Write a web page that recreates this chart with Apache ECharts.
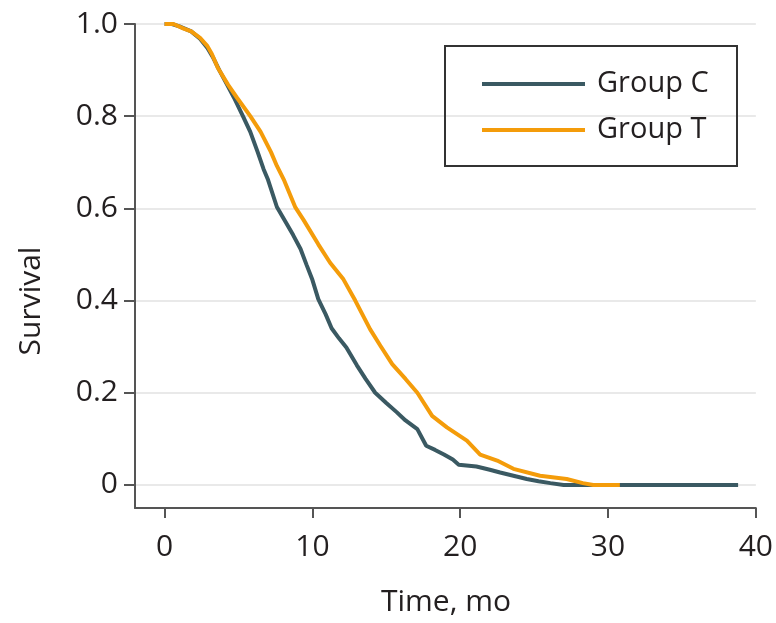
<!DOCTYPE html>
<html>
<head>
<meta charset="utf-8">
<script src="https://cdn.jsdelivr.net/npm/echarts@6/dist/echarts.min.js"></script>
<style>
  html, body { margin: 0; padding: 0; background: #fff; }
  #content { width: 776px; height: 623px; }
</style>
</head>
<body>
<div id="content"></div>
<script>
// survival curves (time in months, survival proportion)
var timeC = [0, 0.5, 1.0, 1.8, 2.4, 2.9, 3.3, 3.7, 4.2, 4.7, 5.3, 5.8, 6.3, 6.7, 7.0, 7.6, 8.2, 8.7, 9.2, 9.6,
    10.0, 10.4, 10.9, 11.3, 11.8, 12.3, 13.0, 13.6, 14.25, 15.0, 15.7, 16.3, 17.1, 17.7, 18.3, 18.9, 19.5, 19.9,
    21.1, 22.0, 22.7, 23.6, 24.5, 25.3, 26.1, 27.0, 38.8];
var survC = [1, 1, 0.995, 0.984, 0.968, 0.948, 0.926, 0.9, 0.87, 0.84, 0.8, 0.766, 0.722, 0.685, 0.662, 0.603, 0.57, 0.542, 0.512, 0.478,
    0.445, 0.403, 0.37, 0.34, 0.318, 0.298, 0.26, 0.23, 0.2, 0.178, 0.158, 0.14, 0.121, 0.085, 0.076, 0.066, 0.055, 0.044,
    0.04, 0.033, 0.027, 0.02, 0.013, 0.008, 0.004, 0, 0];

var timeT = [0, 0.6, 1.3, 1.8, 2.4, 2.9, 3.2, 3.6, 4.3, 4.9, 5.8, 6.5, 7.2, 7.6, 8.1, 8.85, 9.4, 10.4, 11.2, 12.1,
    12.9, 13.9, 14.6, 15.4, 16.3, 17.1, 18.1, 19.1, 20.45, 21.35, 22.5, 23.6, 25.4, 27.2, 28.3, 29.0, 30.8];
var survT = [1, 1, 0.99, 0.984, 0.97, 0.952, 0.935, 0.905, 0.868, 0.84, 0.8, 0.766, 0.722, 0.692, 0.66, 0.602, 0.575, 0.522, 0.482, 0.446,
    0.4, 0.338, 0.302, 0.262, 0.23, 0.2, 0.15, 0.125, 0.096, 0.066, 0.053, 0.035, 0.02, 0.013, 0.004, 0, 0];

var xTicks = [0, 10, 20, 30, 40];
var yTicks = [0, 0.2, 0.4, 0.6, 0.8, 1.0];
var groupNames = ['Group C', 'Group T'];

function pairs(xs, ys) {
    var out = [];
    for (var i = 0; i < xs.length; i++) out.push([xs[i], ys[i]]);
    return out;
}

var font = 'Open Sans';
var textColor = '#231f20';
var axisColor = '#555555';

option = {
    backgroundColor: '#ffffff',
    animation: false,
    grid: { left: 135, right: 20, top: 24, bottom: 115 },
    legend: {
        data: groupNames,
        orient: 'vertical',
        left: 482,
        top: 69,
        padding: 0,
        itemGap: 16,
        itemWidth: 103,
        itemHeight: 4,
        icon: 'rect',
        textStyle: {
            fontFamily: font,
            fontSize: 29,
            color: textColor,
            lineHeight: 30,
            padding: [0, 0, 0, 7]
        }
    },
    xAxis: {
        type: 'value',
        min: -2,
        max: 40,
        axisLine: { show: true, onZero: false, lineStyle: { color: axisColor, width: 2 } },
        axisTick: { show: true, length: 10, customValues: xTicks, lineStyle: { color: axisColor, width: 2 } },
        axisLabel: { customValues: xTicks, margin: 24, fontFamily: font, fontSize: 30, color: textColor },
        splitLine: { show: false }
    },
    yAxis: {
        type: 'value',
        min: -0.05,
        max: 1,
        axisLine: { show: true, onZero: false, lineStyle: { color: axisColor, width: 2 } },
        axisTick: { show: true, length: 11, customValues: yTicks, lineStyle: { color: axisColor, width: 2 } },
        axisLabel: {
            customValues: yTicks, margin: 17, fontFamily: font, fontSize: 30, color: textColor,
            formatter: function (v) { return v === 0 ? '0' : v.toFixed(1); }
        },
        splitLine: { show: true, lineStyle: { color: '#e9e9e9', width: 2 } }
    },
    graphic: [
        {
            type: 'rect',
            shape: { x: 445, y: 46, width: 292, height: 120 },
            style: { fill: 'none', stroke: '#333333', lineWidth: 2 },
            z: 10
        },
        {
            type: 'text',
            x: 446, y: 602,
            style: { text: 'Time, mo', font: '30px "Open Sans"', fill: textColor, textAlign: 'center', textVerticalAlign: 'middle' }
        },
        {
            type: 'text',
            x: 31, y: 301,
            rotation: Math.PI / 2,
            style: { text: 'Survival', font: '30px "Open Sans"', fill: textColor, textAlign: 'center', textVerticalAlign: 'middle' }
        }
    ],
    series: [
        {
            name: groupNames[0],
            type: 'line',
            data: pairs(timeC, survC),
            showSymbol: false,
            symbol: 'none',
            color: '#3a5962',
            lineStyle: { width: 4, color: '#3a5962' },
            z: 3
        },
        {
            name: groupNames[1],
            type: 'line',
            data: pairs(timeT, survT),
            showSymbol: false,
            symbol: 'none',
            color: '#f49c0a',
            lineStyle: { width: 4, color: '#f49c0a' },
            z: 4
        }
    ]
};

var myChart = echarts.init(document.getElementById('content'));
myChart.setOption(option);
</script>
</body>
</html>
